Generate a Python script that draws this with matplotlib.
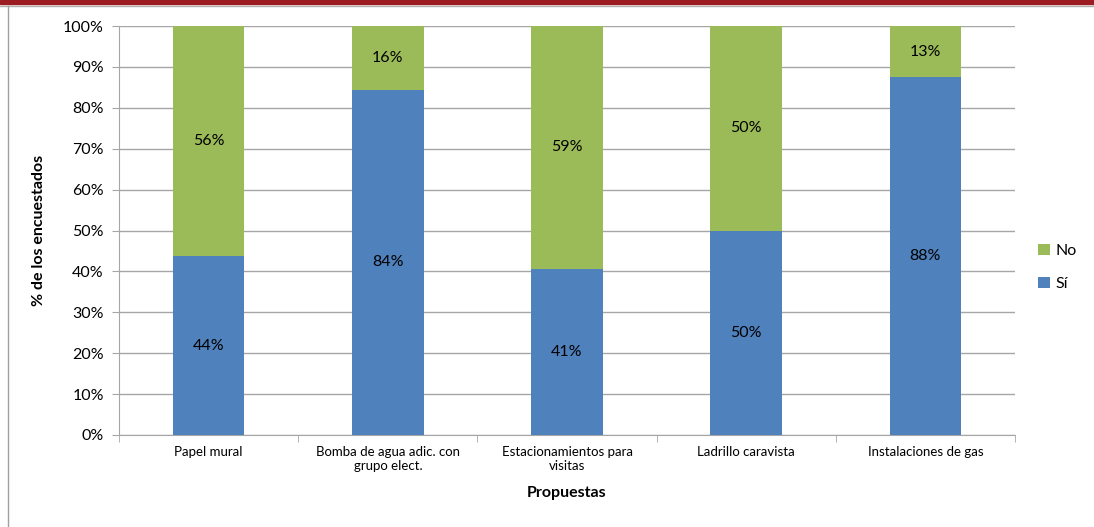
import numpy as np
import matplotlib
matplotlib.use('Agg')
from matplotlib import pyplot as plt
import matplotlib.ticker as ticker
from matplotlib.patches import Rectangle
from matplotlib.lines import Line2D

plt.rcParams['font.family'] = ['Lato', 'DejaVu Sans']

categorias = ['Papel mural', 'Bomba de agua adic. con\ngrupo elect.',
              'Estacionamientos para\nvisitas', 'Ladrillo caravista',
              'Instalaciones de gas']
si = [43.75, 84.375, 40.625, 50.0, 87.5]
no = [56.25, 15.625, 59.375, 50.0, 12.5]

azul = '#4f81bd'
verde = '#9bbb59'
gris = '#a6a6a6'


def pct(v):
    # redondeo hacia arriba en .5, como Excel
    return f'{int(v + 0.5)}%'


fig = plt.figure(figsize=(10.94, 5.27), dpi=100)
ax = fig.add_axes([0.1088, 0.1746, 0.819, 0.776])

x = np.arange(len(categorias))
ax.bar(x, si, width=0.4, color=azul, label='Sí', zorder=3)
ax.bar(x, no, width=0.4, bottom=si, color=verde, label='No', zorder=3)

# etiquetas de datos
for i in range(len(x)):
    ax.text(x[i], si[i] / 2, pct(si[i]), ha='center', va='center', fontsize=11.5, zorder=4)
    ax.text(x[i], si[i] + no[i] / 2, pct(no[i]), ha='center', va='center', fontsize=11.5, zorder=4)

ax.set_xlim(-0.5, len(x) - 0.5)
ax.set_ylim(0, 100)
ax.yaxis.set_major_locator(ticker.MultipleLocator(10))
ax.yaxis.set_major_formatter(ticker.FuncFormatter(lambda v, _: f'{v:.0f}%'))
ax.grid(axis='y', color=gris, linewidth=1, zorder=0)

ax.set_xticks(x)
ax.set_xticklabels(categorias, fontsize=9.5)
ax.xaxis.set_minor_locator(ticker.FixedLocator(np.arange(-0.5, len(x), 1.0)))
ax.tick_params(axis='x', which='major', length=0, pad=8)
ax.tick_params(axis='x', which='minor', length=5, color=gris, direction='out')
ax.tick_params(axis='y', length=5, color=gris, labelsize=11.5, pad=6)

for s in ['top', 'right']:
    ax.spines[s].set_visible(False)
for s in ['left', 'bottom']:
    ax.spines[s].set_color(gris)

ax.set_ylabel('% de los encuestados', fontsize=11.5, fontweight='bold', labelpad=12)
ax.set_xlabel('Propuestas', fontsize=11.5, fontweight='bold', labelpad=10)

h, l = ax.get_legend_handles_labels()
ax.legend(h[::-1], l[::-1], loc='center left', bbox_to_anchor=(1.01, 0.41), frameon=False,
          fontsize=11.5, handlelength=0.7, handleheight=0.7, labelspacing=1.2, handletextpad=0.4)

# marco superior y borde izquierdo
fig.add_artist(Rectangle((0, 1 - 4 / 527), 1, 4 / 527, transform=fig.transFigure,
                         color='#9b1c23', zorder=10))
fig.add_artist(Line2D([0, 1], [1 - 5.5 / 527] * 2, transform=fig.transFigure, color='#b0b0b0', lw=1))
fig.add_artist(Line2D([7.5 / 1094] * 2, [0, 1 - 5.5 / 527], transform=fig.transFigure, color='#a0a0a0', lw=1))

plt.savefig('out.png', dpi=100)
